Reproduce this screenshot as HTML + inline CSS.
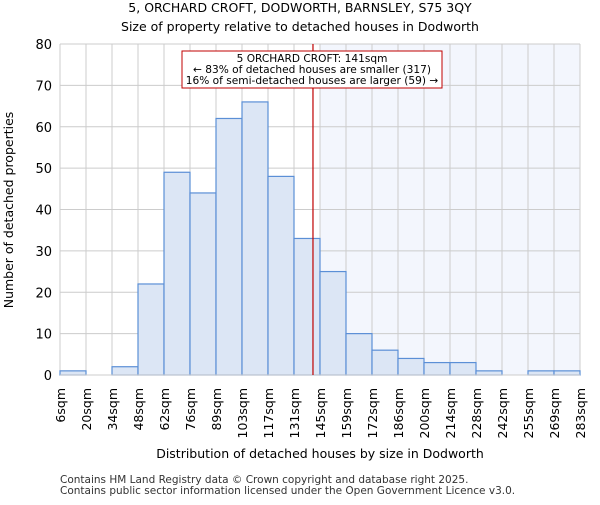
<!DOCTYPE html>
<html><head><meta charset="utf-8"><style>body{margin:0;background:#fff}svg text{font-family:"DejaVu Sans","Liberation Sans",sans-serif}</style></head>
<body>
<svg id="c" width="600" height="500" xmlns="http://www.w3.org/2000/svg">
<text x="300" y="12" text-anchor="middle" font-size="12.5">5, ORCHARD CROFT, DODWORTH, BARNSLEY, S75 3QY</text>
<text x="300" y="31" text-anchor="middle" font-size="12.5">Size of property relative to detached houses in Dodworth</text>
<g id="plot"></g>
<text x="320" y="458" text-anchor="middle" font-size="12.5">Distribution of detached houses by size in Dodworth</text>
<text transform="translate(13,210) rotate(-90)" text-anchor="middle" font-size="12.5">Number of detached properties</text>
<text x="60" y="483" font-size="10.5" fill="#333">Contains HM Land Registry data © Crown copyright and database right 2025.</text>
<text x="60" y="494" font-size="10.5" fill="#333">Contains public sector information licensed under the Open Government Licence v3.0.</text>
</svg>
<script>
const binLabels=["6sqm","20sqm","34sqm","48sqm","62sqm","76sqm","89sqm","103sqm","117sqm","131sqm","145sqm","159sqm","172sqm","186sqm","200sqm","214sqm","228sqm","242sqm","255sqm","269sqm","283sqm"];
const counts=[1,0,2,22,49,44,62,66,48,33,25,10,6,4,3,3,1,0,1,1];
const yTicks=[0,10,20,30,40,50,60,70,80];
const markerBin=9.73;
const X0=60,X1=580,Y0=375,Y1=44,ns="http://www.w3.org/2000/svg";
const bw=(X1-X0)/counts.length;
const x=i=>X0+i*bw, y=v=>Y0-(v/80)*(Y0-Y1);
const g=document.getElementById('plot');
function mk(t,a){const e=document.createElementNS(ns,t);for(const k in a)e.setAttribute(k,a[k]);g.appendChild(e);return e;}
let sh=mk('rect',{x:x(10),y:Y1,width:X1-x(10),height:Y0-Y1,fill:'#f3f6fd'});


yTicks.forEach(v=>{let l=mk('line',{x1:X0,x2:X1,y1:y(v),y2:y(v),stroke:'#ccc'});


let t=mk('text',{x:X0-8,y:y(v)+5,'text-anchor':'end','font-size':'13'});t.textContent=v;

});
binLabels.forEach((s,i)=>{let l=mk('line',{x1:x(i),x2:x(i),y1:Y1,y2:Y0,stroke:'#ccc'});


let t=mk('text',{transform:`translate(${x(i)+5},388) rotate(-90)`,'text-anchor':'end','font-size':'12.5'});t.textContent=s;

});
counts.forEach((v,i)=>{if(!v)return;let r=mk('rect',{x:x(i),y:y(v),width:bw,height:Y0-y(v),fill:'#dce6f5',stroke:'#5b8fd6','stroke-width':1.2});

});
let ax=mk('line',{x1:X0,x2:X1,y1:Y0,y2:Y0,stroke:'#ccc'});


let m=mk('line',{x1:x(markerBin),x2:x(markerBin),y1:Y1,y2:Y0,stroke:'#c00000','stroke-width':1.2});


let b=mk('rect',{x:182,y:51,width:260,height:37,fill:'#fff',stroke:'#c00000'});


["5 ORCHARD CROFT: 141sqm","← 83% of detached houses are smaller (317)","16% of semi-detached houses are larger (59) →"].forEach((s,i)=>{let t=mk('text',{x:312,y:62+i*11,'text-anchor':'middle','font-size':'10.6'});t.textContent=s;

});
</script>
</body></html>
